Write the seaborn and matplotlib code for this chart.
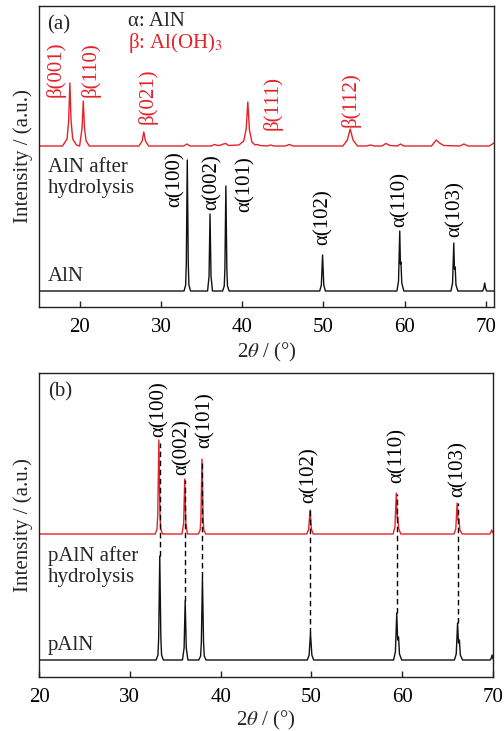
import matplotlib
matplotlib.use("Agg")
import matplotlib.pyplot as plt
import seaborn as sns
import numpy as np

# ---- data (intensity in arbitrary units) ----
# (a) AlN powder
aln_x = [15, 32.85, 33.05, 33.13, 33.25, 33.37, 33.45, 33.65,
         35.75, 35.93, 36.05, 36.17, 36.35,
         37.6, 37.8, 37.88, 38.0, 38.12, 38.2, 38.4,
         49.55, 49.75, 49.9, 50.05, 50.25,
         59.05, 59.25, 59.4, 59.48, 59.55, 59.65, 59.9,
         65.7, 65.9, 66.05, 66.13, 66.22, 66.32, 66.55,
         69.6, 69.75, 69.85, 69.95, 70.1, 71]
aln_y = [0, 0, 6, 28, 131, 28, 6, 0,
         0, 15, 77, 15, 0,
         0, 5, 22, 105, 22, 5, 0,
         0, 6, 36, 6, 0,
         0, 10, 60, 27, 29, 8, 0,
         0, 8, 48, 22, 24, 6, 0,
         0, 3, 8, 3, 0, 0]

# (a) AlN after hydrolysis
aln_h_x = [15, 17.9, 18.45, 18.65, 18.8, 18.95, 19.15, 19.6, 20.0, 20.3, 20.45,
           20.6, 20.8, 21.2, 27.3, 27.7, 27.9, 28.1, 28.5, 32.8, 33.2, 33.6,
           36.2, 36.6, 37.0, 37.4, 37.7, 38.0, 38.3, 39.6, 40.2, 40.5, 40.7,
           40.9, 41.2, 41.6, 41.9, 42.2, 43.1, 43.5, 43.9, 45.3, 45.8, 46.3,
           52.4, 52.95, 53.3, 53.65, 54.2, 55.3, 55.8, 56.3, 57.2, 57.7, 58.2,
           59.1, 59.5, 59.9, 63.3, 63.7, 63.9, 64.3, 64.8, 66.8, 67.3, 67.8,
           70.4, 71]
aln_h_y = [0, 0, 7, 25, 63, 25, 7, 1, 0, 18, 45,
           18, 5, 0, 0, 5, 14, 5, 0, 0, 2, 0,
           0, 1.5, 0.5, 1, 2, 2.5, 0.5, 1, 5, 17, 44,
           16, 4, 1, 1.5, 0.5, 0, 1, 0, 0, 1.5, 0,
           0, 6, 17, 6, 0, 0, 1, 0, 0, 2.5, 0.5,
           0, 2, 0, 0, 4, 6, 3, 0.5, 0, 2, 0,
           0, 3]

# (b) pAlN
paln_x = [20, 32.9, 33.1, 33.18, 33.3, 33.42, 33.5, 33.7,
          35.8, 35.98, 36.1, 36.22, 36.4,
          37.6, 37.8, 37.88, 38.0, 38.12, 38.2, 38.4,
          49.55, 49.75, 49.9, 50.05, 50.25,
          59.05, 59.25, 59.4, 59.5, 59.6, 59.7, 59.95,
          65.75, 65.95, 66.1, 66.2, 66.3, 66.4, 66.65,
          69.7, 69.82, 69.9, 69.98, 70]
paln_y = [0, 0, 5, 22, 104, 22, 5, 0,
          0, 12, 59, 12, 0,
          0, 4, 18, 83, 18, 4, 0,
          0, 5, 27, 5, 0,
          0, 8, 47, 20, 23, 6, 0,
          0, 6, 37, 17, 20, 5, 0,
          0, 2, 5, 2, 1]

# (b) pAlN after hydrolysis
paln_h_x = [20, 32.8, 33.0, 33.08, 33.2, 33.32, 33.4, 33.6,
            35.75, 35.93, 36.05, 36.17, 36.35,
            37.55, 37.75, 37.83, 37.95, 38.07, 38.15, 38.35,
            49.5, 49.7, 49.85, 50.0, 50.2,
            59.0, 59.2, 59.35, 59.45, 59.52, 59.62, 59.85,
            65.7, 65.9, 66.05, 66.15, 66.25, 66.35, 66.6,
            69.65, 69.77, 69.85, 69.93, 70]
paln_h_y = [0, 0, 5, 20, 94, 20, 5, 0,
            0, 11, 55, 11, 0,
            0, 4, 16, 75, 16, 4, 0,
            0, 5, 24, 5, 0,
            0, 7, 41, 16, 17, 5, 0,
            0, 5, 31, 14, 15, 4, 0,
            0, 2, 4, 2, 1]

# peak labels
a_alpha_labels = ["α(100)", "α(002)", "α(101)", "α(102)", "α(110)", "α(103)"]
a_alpha_x = [31.8, 36.3, 40.4, 50.0, 59.5, 66.2]
a_alpha_y = [100, 97, 95, 62, 80, 70]
a_beta_labels = ["β(001)", "β(110)", "β(021)", "β(111)", "β(112)"]
a_beta_x = [17.1, 21.3, 28.4, 43.7, 53.4]
a_beta_y = [210, 210, 183, 177, 180]

b_alpha_labels = ["α(100)", "α(002)", "α(101)", "α(102)", "α(110)", "α(103)"]
b_alpha_x = [33.2, 35.8, 38.25, 49.8, 59.4, 66.15]
b_alpha_y = [240, 202, 229, 174, 194, 180]
# dashed guide lines: peak position, lower and upper intensity
b_guide_x = [33.3, 36.1, 38.0, 49.9, 59.4, 66.1]
b_guide_lo = [121, 76, 100, 44, 64, 54]
b_guide_hi = [234, 197, 216, 168, 183, 174]

RED = "#e3222a"
BLACK = "#111111"

sns.set_theme(style="ticks")
plt.rcParams.update({
    "font.family": ["Liberation Serif", "DejaVu Serif"],
    "mathtext.fontset": "stix",
    "font.size": 15,
    "axes.linewidth": 1.0,
    "axes.edgecolor": "#222222",
    "xtick.direction": "in",
    "xtick.major.size": 4,
    "xtick.major.width": 1.0,
    "xtick.color": "#222222",
    "xtick.labelcolor": "black",
    "xtick.labelsize": 15,
    "axes.labelsize": 15,
})

fig = plt.figure(figsize=(5.04, 7.31), dpi=100)
ax_a = fig.add_axes([39 / 504, 1 - 307 / 731, 455 / 504, 301 / 731])
ax_b = fig.add_axes([39 / 504, 1 - 677 / 731, 454 / 504, 304 / 731])

# ---- panel (a) ----
sns.lineplot(x=aln_x, y=np.array(aln_y) + 16, ax=ax_a, color=BLACK, lw=1.0,
             estimator=None, sort=False)
sns.lineplot(x=aln_h_x, y=np.array(aln_h_y) + 161, ax=ax_a, color=RED, lw=1.0,
             estimator=None, sort=False)
for lab, x, y in zip(a_alpha_labels, a_alpha_x, a_alpha_y):
    ax_a.text(x, y, lab, rotation=90, ha="center", va="bottom", color="black")
for lab, x, y in zip(a_beta_labels, a_beta_x, a_beta_y):
    ax_a.text(x, y, lab, rotation=90, ha="center", va="bottom", color=RED)

ax_a.text(0.018, 0.937, "(a)", transform=ax_a.transAxes, va="center")
ax_a.text(0.196, 0.947, "α: AlN", transform=ax_a.transAxes, va="center")
ax_a.text(0.196, 0.877, "β: Al(OH)$_3$", transform=ax_a.transAxes, va="center",
          color=RED)
ax_a.text(0.02, 0.43, "AlN after\nhydrolysis", transform=ax_a.transAxes,
          va="center", linespacing=1.15)
ax_a.text(0.02, 0.10, "AlN", transform=ax_a.transAxes, va="center")

ax_a.set_xlim(15, 71)
ax_a.set_ylim(0, 301)
ax_a.set_xticks([20, 30, 40, 50, 60, 70])

# ---- panel (b) ----
sns.lineplot(x=paln_x, y=np.array(paln_y) + 17, ax=ax_b, color=BLACK, lw=1.0,
             estimator=None, sort=False)
sns.lineplot(x=paln_h_x, y=np.array(paln_h_y) + 143, ax=ax_b, color=RED, lw=1.0,
             estimator=None, sort=False)
ax_b.vlines(b_guide_x, b_guide_lo, b_guide_hi, colors="black", lw=1.0,
            linestyles=(0, (4, 2.5)))
for lab, x, y in zip(b_alpha_labels, b_alpha_x, b_alpha_y):
    ax_b.text(x, y, lab, rotation=90, ha="center", va="bottom", color="black")

ax_b.text(0.02, 0.9375, "(b)", transform=ax_b.transAxes, va="center")
ax_b.text(0.02, 0.363, "pAlN after\nhydrolysis", transform=ax_b.transAxes,
          va="center", linespacing=1.15)
ax_b.text(0.02, 0.105, "pAlN", transform=ax_b.transAxes, va="center")

ax_b.set_xlim(20, 70)
ax_b.set_ylim(0, 304)
ax_b.set_xticks([20, 30, 40, 50, 60, 70])

for ax in (ax_a, ax_b):
    ax.set_yticks([])
    ax.set_ylabel("Intensity / (a.u.)", labelpad=4)
    ax.tick_params(axis="x", pad=8)
    for s in ax.spines.values():
        s.set_visible(True)
ax_a.set_xlabel(r"2$\theta$ / (°)", labelpad=3)
ax_b.set_xlabel(r"2$\theta$ / (°)", labelpad=1)

fig.savefig("out.png", dpi=100)
